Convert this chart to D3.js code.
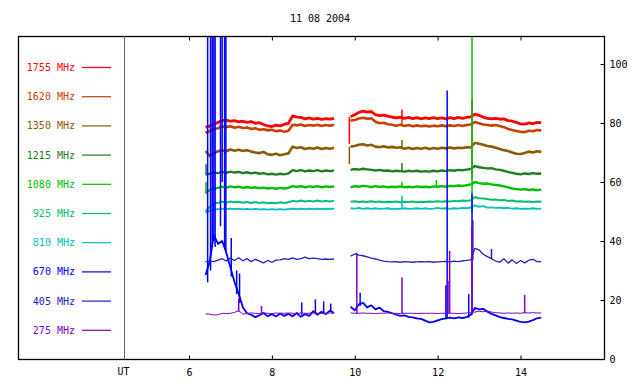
<html>
<script src="https://cdn.jsdelivr.net/npm/d3@7"></script>
<style>
    body { margin: 0; background: #fff; }
    text { font-family: "DejaVu Sans Mono", monospace; font-size: 10px; }
</style>

<body>
    <script>
        var width = 640;
        var height = 384;

        var title = "11 08 2004";
        var labels = ["1755 MHz", "1620 MHz", "1350 MHz", "1215 MHz", "1080 MHz", "925 MHz", "810 MHz", "670 MHz", "405 MHz", "275 MHz"];
        var colors = ["#ff0000", "#c84000", "#8c5a00", "#1e7e1e", "#00c000", "#00c070", "#00c0c0", "#0000ff", "#2020c0", "#8000c0"];
        var hourTicks = [6, 8, 10, 12, 14];
        var valueTicks = [0, 20, 40, 60, 80, 100];

        // sample times (UT hours) of the two recording segments
        var hours1 = d3.range(64, 96).map(d => d / 10);   // 6.4 .. 9.5
        var hours2 = d3.range(99, 146).map(d => d / 10);  // 9.9 .. 14.5

        var s1755_1 = [78.5, 79.0, 79.6, 80.2, 80.8, 81.0, 80.6, 80.8, 80.4, 80.6, 80.2, 80.5, 79.9, 80.1, 79.5, 79.0, 78.8, 79.3, 79.0, 79.6, 79.9, 82.4, 82.0, 81.9, 81.4, 81.7, 81.3, 81.6, 81.2, 81.5, 81.3, 81.6];
        var s1755_2 = [82.1, 82.8, 83.6, 84.0, 83.7, 83.9, 82.8, 82.5, 82.7, 82.3, 82.0, 81.7, 82.0, 81.6, 81.9, 81.5, 81.8, 81.4, 81.7, 81.5, 81.8, 81.5, 81.7, 81.4, 81.8, 81.5, 81.9, 81.6, 81.9, 82.1, 83.0, 82.6, 82.0, 81.6, 81.4, 81.6, 81.3, 81.4, 80.8, 80.6, 80.2, 79.7, 79.6, 80.0, 79.8, 80.2, 80.1];
        var s1620_1 = [76.7, 77.3, 77.9, 78.2, 78.8, 78.6, 78.9, 78.4, 78.7, 78.3, 78.5, 78.0, 78.2, 77.7, 77.9, 77.5, 77.7, 77.2, 77.5, 77.0, 77.4, 79.4, 79.2, 79.5, 79.0, 79.3, 79.1, 79.4, 79.0, 79.3, 79.1, 79.4];
        var s1620_2 = [80.8, 81.0, 81.5, 81.8, 81.4, 81.6, 80.4, 79.9, 80.1, 79.6, 79.4, 79.1, 79.4, 79.0, 79.3, 78.9, 79.2, 78.9, 79.1, 78.8, 79.1, 78.9, 79.2, 78.9, 79.2, 79.0, 79.3, 79.0, 79.3, 79.5, 80.3, 79.9, 79.5, 79.3, 79.1, 79.3, 79.0, 78.6, 78.0, 77.6, 77.3, 77.0, 76.9, 77.4, 77.2, 77.6, 77.5];
        var s1350_1 = [70.5, 68.8, 69.8, 70.4, 70.8, 70.4, 71.0, 70.6, 70.9, 70.5, 70.8, 70.3, 70.0, 69.8, 70.2, 69.4, 69.2, 69.6, 69.1, 69.4, 69.7, 72.0, 71.5, 71.8, 71.2, 71.5, 71.3, 71.7, 71.2, 71.5, 71.3, 71.6];
        var s1350_2 = [72.0, 72.2, 72.6, 72.8, 72.4, 72.6, 72.0, 71.8, 72.1, 71.7, 71.9, 71.6, 71.8, 71.3, 71.6, 71.2, 71.5, 71.3, 71.6, 71.2, 71.5, 71.3, 71.6, 71.4, 71.7, 71.4, 71.6, 71.5, 71.8, 71.7, 73.3, 73.0, 72.6, 72.2, 72.0, 71.6, 71.2, 70.8, 70.5, 70.0, 69.6, 69.5, 69.8, 70.3, 70.0, 70.4, 70.2];
        var s1215_1 = [62.5, 62.8, 63.2, 63.0, 63.4, 63.1, 63.5, 63.2, 63.4, 63.0, 63.3, 62.9, 63.2, 62.8, 63.0, 62.6, 62.8, 62.5, 62.8, 62.6, 62.9, 64.0, 63.7, 64.0, 63.6, 63.9, 63.7, 64.0, 63.6, 63.9, 63.7, 63.9];
        var s1215_2 = [64.1, 64.4, 64.2, 64.5, 64.3, 64.1, 63.9, 64.1, 63.8, 63.9, 63.6, 63.8, 63.7, 63.5, 63.8, 63.6, 63.8, 63.5, 63.7, 63.5, 63.8, 63.6, 63.9, 63.7, 64.0, 63.8, 64.1, 64.0, 64.2, 64.4, 65.4, 65.0, 64.8, 64.6, 64.7, 64.3, 64.1, 63.8, 63.4, 63.1, 62.8, 62.6, 62.9, 62.7, 63.0, 62.8, 62.9];
        var s1080_1 = [56.5, 57.2, 57.8, 58.0, 58.4, 58.1, 58.5, 58.2, 58.4, 58.0, 58.3, 58.0, 58.2, 57.9, 58.1, 57.8, 58.0, 57.7, 58.0, 57.8, 58.0, 58.6, 58.3, 58.6, 58.2, 58.5, 58.3, 58.6, 58.2, 58.5, 58.3, 58.5];
        var s1080_2 = [58.2, 58.6, 58.4, 58.7, 58.5, 58.3, 58.6, 58.3, 58.5, 58.2, 58.4, 58.3, 58.5, 58.2, 58.4, 58.2, 58.5, 58.3, 58.4, 58.2, 58.5, 58.4, 58.6, 58.4, 58.7, 58.6, 58.8, 58.7, 58.9, 59.2, 60.0, 59.6, 59.4, 59.5, 59.2, 59.0, 58.8, 58.5, 58.2, 57.8, 57.6, 57.4, 57.6, 57.3, 57.5, 57.2, 57.4];
        var s925_1 = [50.0, 51.6, 52.6, 53.0, 53.3, 53.0, 53.4, 53.1, 53.3, 53.0, 53.2, 52.9, 53.2, 52.9, 53.1, 52.8, 53.0, 52.8, 53.1, 52.9, 53.1, 53.6, 53.4, 53.7, 53.4, 53.6, 53.4, 53.7, 53.4, 53.6, 53.4, 53.6];
        var s925_2 = [53.3, 53.5, 53.2, 53.4, 53.2, 53.5, 53.2, 53.4, 53.1, 53.3, 53.2, 53.4, 53.1, 53.3, 53.2, 53.4, 53.1, 53.3, 53.2, 53.4, 53.3, 53.5, 53.3, 53.5, 53.4, 53.6, 53.5, 53.7, 53.6, 53.8, 54.9, 54.5, 54.4, 54.2, 54.0, 54.1, 53.8, 53.9, 53.6, 53.7, 53.4, 53.5, 53.3, 53.4, 53.2, 53.4, 53.3];
        var s810_1 = [49.5, 50.2, 50.6, 50.8, 51.0, 50.8, 51.0, 50.8, 51.0, 50.7, 50.9, 50.7, 50.9, 50.7, 50.8, 50.6, 50.8, 50.6, 50.8, 50.6, 50.8, 51.0, 50.8, 51.0, 50.8, 51.0, 50.8, 51.0, 50.8, 51.0, 50.8, 51.0];
        var s810_2 = [51.1, 51.0, 51.2, 50.9, 51.1, 50.9, 51.1, 50.9, 51.0, 51.1, 50.8, 51.0, 50.9, 51.1, 50.9, 51.0, 51.1, 50.9, 51.1, 50.9, 51.0, 51.2, 51.0, 51.1, 50.9, 51.1, 51.0, 51.2, 51.1, 51.3, 52.1, 51.6, 51.8, 51.3, 51.4, 51.2, 51.3, 51.1, 51.2, 51.0, 51.1, 50.9, 51.0, 50.9, 51.1, 50.9, 51.0];
        var s670_1 = [28.5, 33.0, 42.0, 39.0, 40.0, 36.0, 31.0, 26.0, 22.0, 17.5, 15.5, 15.0, 14.2, 14.8, 15.6, 14.5, 15.2, 14.4, 15.4, 14.6, 15.3, 14.5, 15.6, 14.3, 15.2, 14.6, 16.2, 15.0, 16.0, 15.2, 16.4, 15.6];
        var s670_2 = [17.7, 16.5, 18.5, 19.0, 17.5, 18.2, 16.8, 17.4, 16.2, 16.0, 15.5, 15.0, 14.6, 14.8, 14.3, 14.1, 13.8, 13.6, 13.0, 12.4, 12.6, 13.1, 13.5, 13.8, 14.0, 13.8, 14.1, 13.9, 14.2, 15.0, 17.3, 16.8, 17.0, 16.0, 15.3, 14.8, 14.2, 13.9, 13.6, 13.4, 13.0, 12.6, 12.4, 12.7, 13.2, 13.8, 14.0];
        var s405_1 = [33.0, 33.2, 33.0, 33.5, 34.0, 33.2, 34.2, 33.4, 34.3, 33.3, 34.0, 33.0, 33.8, 33.2, 32.6, 33.4, 32.8, 33.5, 33.6, 34.0, 33.8, 34.3, 33.8, 34.0, 34.5, 34.0, 34.2, 34.0, 33.8, 33.9, 33.8, 33.9];
        var s405_2 = [34.9, 35.6, 35.2, 35.0, 34.6, 34.2, 33.9, 33.5, 33.2, 33.0, 32.9, 33.0, 32.8, 33.0, 32.9, 32.8, 32.9, 33.0, 32.9, 33.0, 32.8, 32.9, 33.0, 33.1, 32.9, 33.2, 33.0, 33.3, 33.4, 33.6, 37.5, 37.0, 35.5, 34.7, 34.0, 33.2, 32.8, 34.0, 32.5, 33.6, 32.4, 33.4, 32.6, 33.5, 33.8, 33.0, 33.0];
        var s275_1 = [15.3, 15.2, 14.9, 15.0, 15.5, 15.4, 15.5, 15.8, 16.4, 15.2, 15.4, 15.6, 15.5, 15.4, 15.6, 15.5, 15.4, 15.6, 15.5, 15.5, 15.6, 15.5, 15.4, 15.6, 15.5, 15.5, 15.6, 15.5, 15.4, 15.5, 15.6, 15.5];
        var s275_2 = [15.6, 15.5, 15.5, 15.6, 15.5, 15.5, 15.4, 15.5, 15.5, 15.6, 15.5, 15.5, 15.4, 15.5, 15.5, 15.5, 15.4, 15.5, 15.5, 15.5, 15.5, 15.4, 15.5, 15.5, 15.5, 15.5, 15.4, 15.5, 15.6, 15.8, 15.9, 16.2, 16.0, 16.3, 15.9, 15.7, 15.6, 15.5, 15.6, 15.5, 15.6, 15.5, 15.7, 15.6, 15.7, 15.6, 15.6];

        // short bursts: [series index, hour, from, to]
        var spikes = [
            [7, 6.45, 26, 115], [7, 6.52, 30, 115], [7, 6.56, 38, 115], [7, 6.60, 40, 115], [7, 6.63, 38, 115],
            [7, 6.76, 45, 115], [7, 6.80, 60, 115], [7, 6.86, 38, 115], [7, 6.89, 36, 115],
            [7, 7.02, 28, 41], [7, 7.15, 22, 30], [7, 7.22, 19, 29],
            [7, 8.72, 15, 19.2], [7, 9.05, 15.5, 20.2], [7, 9.25, 15.5, 19.5], [7, 9.42, 16, 18.8],
            [7, 10.13, 18, 22.5], [7, 12.20, 13.8, 25], [7, 12.23, 13.8, 91], [7, 12.75, 14, 22], [7, 12.83, 15, 56],
            [8, 12.85, 33.6, 47], [8, 13.30, 34, 37.3],
            [9, 7.20, 16, 20.4], [9, 7.75, 15.5, 18], [9, 10.05, 15.5, 36], [9, 11.14, 15.5, 27.6],
            [9, 12.25, 15.5, 26.5], [9, 12.29, 15.5, 36.6], [9, 12.83, 15.5, 45], [9, 14.10, 15.5, 21.7],
            [0, 9.87, 73, 82], [2, 9.87, 66, 72], [3, 6.41, 62.5, 66], [4, 6.41, 56, 60],
            [0, 11.14, 81.8, 84.6], [1, 11.14, 79.2, 81.5], [2, 11.14, 71.6, 74.2], [3, 11.14, 63.7, 66.4],
            [4, 11.14, 58.4, 60.1], [5, 11.14, 53.2, 55.4], [6, 11.14, 51.0, 53.9], [4, 11.97, 58.4, 60.7],
            [0, 12.83, 81, 88], [1, 12.83, 77, 82], [2, 12.83, 66.4, 76.6], [3, 12.83, 61, 67],
            [4, 12.83, 56, 115], [5, 12.83, 51.5, 57], [6, 12.83, 49.5, 53.5]
        ];

        var values = [
            [s1755_1, s1755_2], [s1620_1, s1620_2], [s1350_1, s1350_2], [s1215_1, s1215_2], [s1080_1, s1080_2],
            [s925_1, s925_2], [s810_1, s810_2], [s670_1, s670_2], [s405_1, s405_2], [s275_1, s275_2]
        ];
        var widths = [2.8, 2.6, 2.6, 2.4, 2.4, 2, 1.8, 1.8, 1.3, 1];

        var frame = { left: 18, top: 36, right: 604, bottom: 359 };
        var utX = 124.5;

        var x = d3.scaleLinear().domain([6, 14]).range([189, 520.5]);
        var y = d3.scaleLinear().domain([0, 100]).range([frame.bottom, 64]);

        var svg = d3.select("body").append("svg")
            .attr("width", width)
            .attr("height", height);

        svg.append("rect").attr("width", width).attr("height", height).attr("fill", "#fff");

        svg.append("text")
            .attr("x", 320).attr("y", 22)
            .attr("text-anchor", "middle")
            .text(title);

        svg.append("clipPath").attr("id", "plot")
            .append("rect")
            .attr("x", utX).attr("y", frame.top)
            .attr("width", frame.right - utX).attr("height", frame.bottom - frame.top);

        var vis = svg.append("g").attr("clip-path", "url(#plot)");
        var line = d3.line().x(d => x(d[0])).y(d => y(d[1]));

        values.forEach((segs, i) => {
            [hours1, hours2].forEach((hrs, k) => {
                vis.append("path")
                    .datum(hrs.map((h, j) => [h, segs[k][j]]))
                    .attr("fill", "none")
                    .attr("stroke", colors[i])
                    .attr("stroke-width", widths[i])
                    .attr("stroke-linejoin", "round")
                    .attr("d", line);
            });
            spikes.filter(s => s[0] == i).forEach(s => {
                vis.append("line")
                    .attr("x1", x(s[1])).attr("x2", x(s[1]))
                    .attr("y1", y(s[2])).attr("y2", y(s[3]))
                    .attr("stroke", colors[i])
                    .attr("stroke-width", 1.5);
            });
        });

        // frame and divider
        svg.append("rect")
            .attr("x", frame.left + 0.5).attr("y", frame.top + 0.5)
            .attr("width", frame.right - frame.left).attr("height", frame.bottom - frame.top)
            .attr("fill", "none").attr("stroke", "#000").attr("stroke-width", 1.3);

        svg.append("line")
            .attr("x1", utX).attr("x2", utX)
            .attr("y1", frame.top).attr("y2", frame.bottom)
            .attr("stroke", "#666");

        svg.append("text")
            .attr("x", utX - 1).attr("y", 375)
            .attr("text-anchor", "middle")
            .text("UT");

        var bottomAxis = svg.append("g")
            .attr("transform", `translate(0,${frame.bottom + 0.5})`)
            .call(d3.axisBottom(x).tickValues(hourTicks).tickSizeInner(-4).tickSizeOuter(0).tickPadding(9));
        var topAxis = svg.append("g")
            .attr("transform", `translate(0,${frame.top + 0.5})`)
            .call(d3.axisTop(x).tickValues(hourTicks).tickSizeInner(-4).tickSizeOuter(0).tickFormat(""));
        var rightAxis = svg.append("g")
            .attr("transform", `translate(${frame.right + 0.5},0)`)
            .call(d3.axisRight(y).tickValues(valueTicks).tickSizeInner(-4).tickSizeOuter(0).tickPadding(5));

        [bottomAxis, topAxis, rightAxis].forEach(a => {
            a.select(".domain").remove();
            a.selectAll("text").style("font-family", "DejaVu Sans Mono, monospace").style("font-size", "10px").attr("fill", "#000");
            a.selectAll("line").attr("stroke", "#000");
        });

        // legend
        var legend = svg.append("g").selectAll("g")
            .data(labels)
            .enter().append("g")
            .attr("transform", (d, i) => `translate(0,${67.5 + i * 29.2})`);

        legend.append("text")
            .attr("x", 75).attr("y", 3.5)
            .attr("text-anchor", "end")
            .attr("fill", (d, i) => colors[i])
            .text(d => d);

        legend.append("line")
            .attr("x1", 82).attr("x2", 111)
            .attr("stroke", (d, i) => colors[i])
            .attr("stroke-width", 1.2);
    </script>
</body>

</html>
